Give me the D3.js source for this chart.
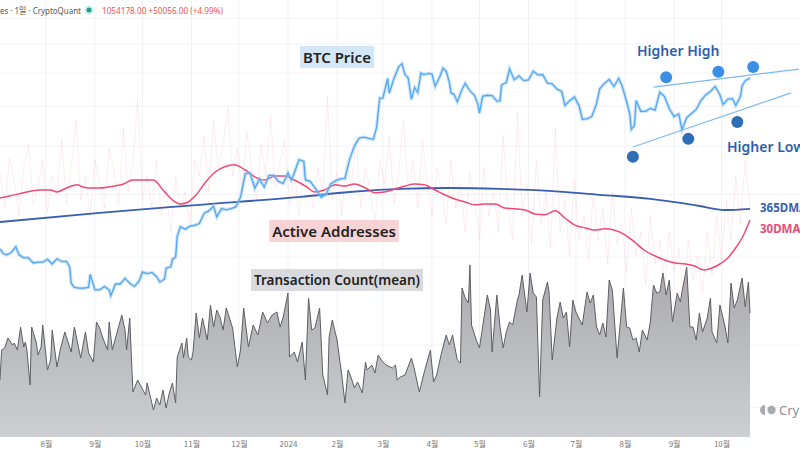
<!DOCTYPE html>
<html><head><meta charset="utf-8">
<script src="https://cdn.jsdelivr.net/npm/d3@7"></script>
<style>
html,body{margin:0;padding:0;background:#fff;}
svg{display:block;font-family:"Noto Sans","Noto Sans CJK KR",sans-serif;}
</style></head><body>
<svg id="chart" width="800" height="450"></svg>
<script>
// ---------------- DATA ----------------
const startDate = new Date(2023, 6, 3);   // first day drawn
const lastDay = 474;                      // last day index drawn
const headerLeft = "es · 1일 · CryptoQuant";
const headerValue = "1054178.00 +50056.00 (+4.99%)";

// BTC price (USD thousands), daily closes sampled
const priceData = [
["2023-07-03",31.15],["2023-07-05",30.5],["2023-07-07",30.3],["2023-07-10",30.6],["2023-07-13",31.45],["2023-07-15",30.3],
["2023-07-18",29.9],["2023-07-21",29.9],["2023-07-24",29.2],["2023-07-27",29.3],["2023-07-30",29.3],["2023-08-02",29.7],
["2023-08-05",29.05],["2023-08-08",29.75],["2023-08-11",29.4],["2023-08-14",29.4],["2023-08-16",28.7],["2023-08-17",26.6],
["2023-08-19",26.1],["2023-08-22",26.0],["2023-08-25",26.0],["2023-08-28",26.1],["2023-08-29",27.7],["2023-09-01",25.8],
["2023-09-04",25.8],["2023-09-07",26.2],["2023-09-10",25.8],["2023-09-11",25.1],["2023-09-14",26.5],["2023-09-17",26.5],
["2023-09-20",27.2],["2023-09-23",26.6],["2023-09-26",26.2],["2023-09-29",26.9],["2023-10-01",28.0],["2023-10-04",27.8],
["2023-10-07",27.95],["2023-10-10",27.4],["2023-10-12",26.75],["2023-10-15",27.1],["2023-10-16",28.5],["2023-10-19",28.7],
["2023-10-20",29.7],["2023-10-22",30.0],["2023-10-23",33.0],["2023-10-25",34.5],["2023-10-28",34.1],["2023-10-31",34.6],
["2023-11-03",34.7],["2023-11-06",35.0],["2023-11-09",36.7],["2023-11-12",37.1],["2023-11-15",37.9],["2023-11-17",36.1],
["2023-11-20",37.5],["2023-11-23",37.3],["2023-11-26",37.5],["2023-11-29",37.8],["2023-12-02",39.5],["2023-12-05",44.0],
["2023-12-08",44.2],["2023-12-11",41.2],["2023-12-14",43.0],["2023-12-17",41.4],["2023-12-20",43.7],["2023-12-23",43.7],
["2023-12-26",42.5],["2023-12-29",42.1],["2024-01-01",44.2],["2024-01-03",42.8],["2024-01-05",44.2],["2024-01-08",47.0],
["2024-01-11",46.6],["2024-01-12",42.8],["2024-01-15",42.5],["2024-01-18",41.3],["2024-01-22",39.5],["2024-01-25",40.0],
["2024-01-28",42.0],["2024-01-31",42.6],["2024-02-03",43.0],["2024-02-06",43.1],["2024-02-09",47.1],["2024-02-12",50.0],
["2024-02-15",51.9],["2024-02-18",52.1],["2024-02-21",51.8],["2024-02-24",51.6],["2024-02-26",54.5],["2024-02-28",62.4],
["2024-03-01",62.4],["2024-03-04",68.3],["2024-03-05",63.8],["2024-03-08",68.3],["2024-03-11",72.1],["2024-03-13",73.1],
["2024-03-15",69.5],["2024-03-17",68.4],["2024-03-19",62.0],["2024-03-21",65.5],["2024-03-23",64.0],["2024-03-25",70.0],
["2024-03-27",69.5],["2024-03-30",69.9],["2024-04-01",69.7],["2024-04-03",65.9],["2024-04-06",68.9],["2024-04-08",71.6],
["2024-04-10",70.6],["2024-04-12",67.1],["2024-04-13",63.9],["2024-04-15",63.4],["2024-04-17",61.3],["2024-04-20",64.9],
["2024-04-22",66.8],["2024-04-25",64.5],["2024-04-28",63.1],["2024-04-30",60.6],["2024-05-01",58.2],["2024-05-03",62.9],
["2024-05-06",63.2],["2024-05-09",63.1],["2024-05-12",61.5],["2024-05-14",61.6],["2024-05-15",66.3],["2024-05-18",67.0],
["2024-05-20",71.4],["2024-05-23",67.9],["2024-05-26",69.1],["2024-05-29",67.6],["2024-06-01",67.8],["2024-06-04",70.6],
["2024-06-07",69.4],["2024-06-10",69.5],["2024-06-13",66.8],["2024-06-16",66.6],["2024-06-19",65.0],["2024-06-22",64.3],
["2024-06-24",60.3],["2024-06-27",61.6],["2024-06-30",62.7],["2024-07-03",60.2],["2024-07-05",56.6],["2024-07-08",56.7],
["2024-07-11",57.3],["2024-07-14",60.8],["2024-07-16",65.1],["2024-07-19",66.7],["2024-07-22",68.0],["2024-07-25",65.8],
["2024-07-28",68.3],["2024-07-30",66.2],["2024-08-02",61.4],["2024-08-04",58.1],["2024-08-05",54.0],["2024-08-07",55.0],
["2024-08-08",61.7],["2024-08-11",58.7],["2024-08-14",58.7],["2024-08-17",59.5],["2024-08-20",59.0],["2024-08-23",64.1],
["2024-08-26",62.8],["2024-08-29",59.4],["2024-09-01",57.3],["2024-09-04",58.0],["2024-09-06",53.9],["2024-09-09",57.0],
["2024-09-12",58.1],["2024-09-15",59.2],["2024-09-18",61.7],["2024-09-21",63.3],["2024-09-24",64.3],["2024-09-27",65.8],
["2024-09-30",63.3],["2024-10-02",60.6],["2024-10-05",62.1],["2024-10-08",62.2],["2024-10-10",60.3],["2024-10-13",62.9],
["2024-10-14",66.0],["2024-10-16",67.6],["2024-10-19",68.4]
];

// Transaction count (mean), thousands : [day index, value]
const txData = [
[0,228],[1,348],[3,356],[5,396],[8,368],[9,376],[11,348],[13,440],[15,360],[16,380],[17,348],[19,208],[20,440],[23,376],
[24,328],[26,360],[27,448],[30,268],[32,308],[33,428],[36,280],[38,348],[41,420],[43,380],[45,340],[47,440],[51,316],
[54,420],[56,336],[59,300],[61,460],[63,436],[65,396],[68,348],[69,460],[71,348],[73,396],[77,488],[79,428],[80,348],
[82,476],[84,180],[87,228],[88,216],[92,168],[93,216],[97,108],[99,156],[101,128],[103,188],[105,116],[107,176],[109,216],
[111,136],[112,320],[115,376],[116,316],[118,396],[119,320],[121,308],[122,340],[124,496],[126,396],[128,476],[131,388],
[133,528],[135,440],[137,508],[139,480],[141,428],[143,516],[147,436],[150,280],[152,348],[154,516],[157,360],[160,448],
[163,408],[166,500],[169,456],[172,488],[175,500],[177,440],[179,480],[182,576],[183,320],[186,340],[188,300],[191,380],
[193,228],[195,556],[197,428],[199,436],[202,516],[204,248],[207,168],[208,400],[210,468],[213,388],[216,248],[218,136],
[220,268],[222,236],[224,196],[226,220],[229,176],[231,300],[232,268],[235,288],[237,256],[239,328],[241,308],[244,288],
[248,276],[250,288],[251,228],[253,240],[256,248],[260,316],[262,268],[265,180],[268,256],[272,348],[274,220],[276,248],
[279,336],[282,408],[284,368],[286,408],[289,308],[291,296],[292,596],[294,556],[296,536],[297,688],[298,448],[301,388],
[303,356],[305,440],[308,568],[310,508],[311,340],[314,568],[316,440],[318,356],[320,420],[322,460],[324,448],[327,548],
[328,568],[330,648],[333,500],[335,656],[337,576],[339,560],[341,160],[343,548],[346,620],[347,580],[349,308],[352,476],
[354,540],[356,476],[358,500],[360,360],[362,548],[364,500],[368,448],[371,580],[373,536],[375,568],[377,440],[379,408],
[381,456],[383,400],[385,628],[387,588],[390,316],[394,596],[396,440],[398,436],[400,388],[402,396],[404,340],[406,428],
[409,388],[411,460],[413,608],[415,576],[417,580],[419,656],[421,568],[423,628],[425,460],[428,576],[430,540],[431,580],
[434,680],[436,440],[438,440],[440,388],[442,496],[444,420],[447,476],[449,556],[450,420],[453,376],[455,528],[458,448],
[460,376],[462,616],[464,516],[466,548],[469,636],[471,520],[473,620],[474,496]
];

// Active addresses (thousands): raw daily (every 3 days), 30DMA and 365DMA as [day, value]
const aaRawStep = 3;
const aaRaw = [
870,780,905,850,760,880,940,790,835,900,
770,860,815,950,790,880,1000,800,860,760,
900,845,780,930,870,790,980,820,890,1050,
800,860,780,900,760,830,720,860,780,820,
740,900,860,960,820,1000,880,940,1030,860,
930,820,970,880,800,940,860,1010,830,900,
950,790,880,760,900,840,780,880,820,1060,
800,870,760,900,830,960,780,880,820,740,
900,840,960,790,870,1000,820,900,780,950,
840,760,880,820,740,900,780,840,720,870,
800,700,880,760,820,720,960,780,700,1020,
760,840,690,900,740,820,680,980,720,800,
660,850,700,760,650,820,700,780,640,820,
690,740,620,780,660,720,590,760,640,700,
580,720,620,680,560,700,600,660,570,720,
610,760,650,800,700,860,740,900,780];
const aa30 = [[0,805],[6,810],[15,818],[25,825],[32,825],[36,820],[42,830],[49,838],[52,833],[57,830],[63,830],[69,833],
[78,840],[84,850],[97,850],[103,825],[109,800],[114,790],[118,793],[124,813],[130,845],[136,870],[142,883],[148,888],
[155,875],[161,858],[167,850],[174,860],[180,860],[186,850],[193,835],[199,820],[205,825],[212,838],[218,835],[224,840],
[231,830],[237,818],[243,820],[250,828],[256,835],[262,840],[268,838],[275,825],[281,813],[287,803],[294,795],[300,788],
[306,790],[313,790],[319,780],[325,778],[332,775],[338,765],[344,763],[351,773],[357,755],[363,738],[370,730],[376,725],
[382,728],[388,725],[395,713],[401,695],[407,675],[414,660],[420,650],[426,643],[433,640],[439,635],[445,625],[450,630],
[455,640],[460,655],[464,675],[469,705],[474,750]];
const aa365 = [[0,745],[63,768],[126,788],[190,808],[221,820],[253,828],[284,830],[316,828],[347,823],[379,813],[411,803],
[430,793],[442,785],[458,775],[474,778]];

// Pattern annotations (date, price k)
const highPoints = [["2024-08-27",68.7],["2024-09-29",70.4],["2024-10-21",72.0]];
const lowPoints  = [["2024-08-06",47.6],["2024-09-10",51.7],["2024-10-11",55.9]];
const upperTrend = [["2024-08-19",65.6],["2024-11-19",71.3]];
const lowerTrend = [["2024-08-06",49.8],["2024-11-14",63.9]];

// ---------------- CHART ----------------
const W = 800, H = 450, plotR = 750, baseY = 437;
const svg = d3.select("#chart");
const parse = d3.timeParse("%Y-%m-%d");
const dayDate = d => d3.timeDay.offset(startDate, d);

const x = d3.scaleTime().domain([startDate, dayDate(lastDay)]).range([0, plotR]);
const yPrice = d3.scaleLog().domain([13.1, 98]).range([baseY, 0]);
const yTx = d3.scaleLinear().domain([0, 700]).range([baseY, 262]);
const yAA = d3.scaleLinear().domain([400, 1100]).range([360, 80]);

// gridlines
const months = d3.timeMonth.range(new Date(2023, 7, 1), new Date(2024, 9, 2));
const gridPrices = [90, 80, 70, 60, 50, 40, 30, 20, 15];
const grid = svg.append("g");
grid.selectAll("line.v").data(months).join("line")
  .attr("x1", d => x(d)).attr("x2", d => x(d)).attr("y1", 0).attr("y2", baseY)
  .attr("stroke", "#f0f1f4").attr("stroke-width", 1);
grid.selectAll("line.h").data(gridPrices).join("line")
  .attr("x1", 0).attr("x2", W).attr("y1", d => yPrice(d)).attr("y2", d => yPrice(d))
  .attr("stroke", "#f3f4f6").attr("stroke-width", 1);

// transaction count area
const defs = svg.append("defs");
const grad = defs.append("linearGradient").attr("id", "txgrad").attr("x1", 0).attr("y1", 0).attr("x2", 0).attr("y2", 1);
grad.append("stop").attr("offset", "0%").attr("stop-color", "#a9a9ae");
grad.append("stop").attr("offset", "100%").attr("stop-color", "#cdced2");
const txArea = d3.area().x(d => x(dayDate(d[0]))).y0(baseY).y1(d => yTx(d[1]));
const txLine = d3.line().x(d => x(dayDate(d[0]))).y(d => yTx(d[1]));
svg.append("path").datum(txData).attr("d", txArea).attr("fill", "url(#txgrad)");
svg.append("path").datum(txData).attr("d", txLine).attr("fill", "none")
  .attr("stroke", "#5e5e63").attr("stroke-width", 1);

// raw active addresses (faint)
const aaRawLine = d3.line().x((d, i) => x(dayDate(i * aaRawStep))).y(d => yAA(d));
svg.append("path").datum(aaRaw).attr("d", aaRawLine).attr("fill", "none")
  .attr("stroke", "#f49aac").attr("stroke-opacity", 0.28).attr("stroke-width", 0.7);

// 365DMA
const dmaLine = d3.line().curve(d3.curveMonotoneX).x(d => x(dayDate(d[0]))).y(d => yAA(d[1]));
svg.append("path").datum(aa365).attr("d", dmaLine).attr("fill", "none")
  .attr("stroke", "#3a5eb1").attr("stroke-width", 1.8);

// 30DMA
svg.append("path").datum(aa30).attr("d", dmaLine).attr("fill", "none")
  .attr("stroke", "#ee4a74").attr("stroke-width", 1.5);

// BTC price
const priceParsed = priceData.map(d => [parse(d[0]), d[1]]);
const priceLine = d3.line().x(d => x(d[0])).y(d => yPrice(d[1]));
svg.append("path").datum(priceParsed).attr("d", priceLine).attr("fill", "none")
  .attr("stroke", "#9dcdf6").attr("stroke-opacity", 0.55).attr("stroke-width", 3.5);
svg.append("path").datum(priceParsed).attr("d", priceLine).attr("fill", "none")
  .attr("stroke", "#55a7ee").attr("stroke-width", 1.3);

// trend lines
const trendLine = d3.line().x(d => x(parse(d[0]))).y(d => yPrice(d[1]));
[upperTrend, lowerTrend].forEach(t => {
  svg.append("path").datum(t).attr("d", trendLine).attr("fill", "none")
    .attr("stroke", "#7db9ee").attr("stroke-width", 1.2);
});
svg.selectAll("circle.hh").data(highPoints).join("circle")
  .attr("cx", d => x(parse(d[0]))).attr("cy", d => yPrice(d[1])).attr("r", 6)
  .attr("fill", "#3b90e6");
svg.selectAll("circle.hl").data(lowPoints).join("circle")
  .attr("cx", d => x(parse(d[0]))).attr("cy", d => yPrice(d[1])).attr("r", 6)
  .attr("fill", "#2f6db6");

// label boxes
function tag(text, cx, cy, size, bg, color) {
  const g = svg.append("g");
  const t = g.append("text").attr("x", cx).attr("y", cy).attr("text-anchor", "middle")
    .attr("dominant-baseline", "central").attr("font-size", size).attr("font-weight", 600)
    .attr("fill", color).text(text);
  const b = t.node().getBBox();
  g.insert("rect", "text").attr("x", b.x - 3).attr("y", cy - 11).attr("width", b.width + 6)
    .attr("height", 22).attr("fill", bg);
}
tag("BTC Price", 337, 57, 15, "#d3e7f8", "#222");
tag("Active Addresses", 334, 231, 15, "#f9d2d4", "#222");
tag("Transaction Count(mean)", 337, 280, 13.5, "#d9dadd", "#222");

svg.append("text").attr("x", 637).attr("y", 50).attr("dominant-baseline", "central")
  .attr("font-size", 14).attr("font-weight", 600).attr("fill", "#2d5ea9").text("Higher High");
svg.append("text").attr("x", 727).attr("y", 146).attr("dominant-baseline", "central")
  .attr("font-size", 14).attr("font-weight", 600).attr("fill", "#2d5ea9").text("Higher Low");

svg.append("text").attr("x", 760).attr("y", 207).attr("dominant-baseline", "central")
  .attr("font-size", 11.5).attr("font-weight", 700).attr("fill", "#3a5eb1").text("365DMA");
svg.append("text").attr("x", 760).attr("y", 228).attr("dominant-baseline", "central")
  .attr("font-size", 11.5).attr("font-weight", 700).attr("fill", "#ee4a74").text("30DMA");

// header
svg.append("text").attr("x", 0).attr("y", 10).attr("dominant-baseline", "central")
  .attr("font-size", 9.5).attr("fill", "#555")
  .attr("textLength", 81).attr("lengthAdjust", "spacingAndGlyphs").text(headerLeft);
svg.append("circle").attr("cx", 89).attr("cy", 10).attr("r", 4.5).attr("fill", "#cdeee9");
svg.append("circle").attr("cx", 89).attr("cy", 10).attr("r", 2.5).attr("fill", "#1e9e8e");
svg.append("text").attr("x", 102).attr("y", 10).attr("dominant-baseline", "central")
  .attr("font-size", 8.2).attr("fill", "#ef5350").text(headerValue);

// watermark
const wm = svg.append("g").attr("fill", "#a9abb0");
wm.append("path").attr("d", "M765,405 a5,5 0 0,0 0,10 z");
wm.append("circle").attr("cx", 771.5).attr("cy", 410).attr("r", 4.2);
wm.append("text").attr("x", 779).attr("y", 410).attr("dominant-baseline", "central")
  .attr("font-size", 13).attr("fill", "#8d8f94").text("Cryp");

// x axis
const xAxis = d3.axisBottom(x).tickValues(months).tickSize(0).tickPadding(4)
  .tickFormat(d => d.getMonth() === 0 ? String(d.getFullYear()) : (d.getMonth() + 1) + "월");
const ax = svg.append("g").attr("transform", `translate(0,${baseY})`).call(xAxis);
ax.select(".domain").remove();
ax.selectAll("text").attr("font-size", 8).attr("fill", "#777")
  .attr("font-family", "'Noto Sans CJK KR', sans-serif");
</script>
</body></html>
